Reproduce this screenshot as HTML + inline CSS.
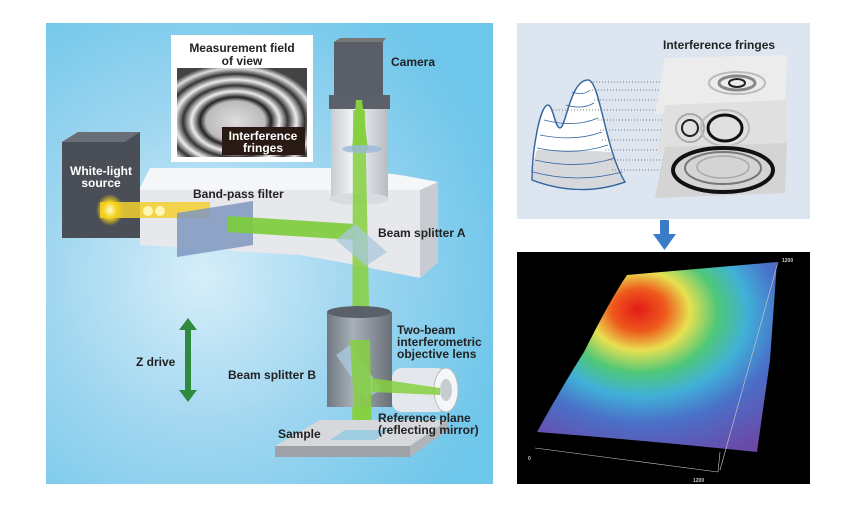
<!DOCTYPE html>
<html><head><meta charset="utf-8"><style>
html,body{margin:0;padding:0;background:#fff;}
svg{display:block;}
text{font-family:"Liberation Sans",Arial,sans-serif;font-weight:bold;}
</style></head><body>
<svg width="857" height="506" viewBox="0 0 857 506" xmlns="http://www.w3.org/2000/svg">
<defs>
<radialGradient id="bg" cx="0.35" cy="0.55" r="0.7">
<stop offset="0" stop-color="#d6eef9"/><stop offset="0.5" stop-color="#9fd6f0"/><stop offset="1" stop-color="#6ec6ea"/>
</radialGradient>
<radialGradient id="surf" cx="0.45" cy="0.28" r="0.8" fx="0.42" fy="0.25">
<stop offset="0" stop-color="#e41a18"/><stop offset="0.14" stop-color="#ee5a1c"/><stop offset="0.26" stop-color="#e8e050"/>
<stop offset="0.4" stop-color="#50c878"/><stop offset="0.55" stop-color="#40b0d8"/><stop offset="0.72" stop-color="#4a70c8"/><stop offset="1" stop-color="#6a4aa8"/>
</radialGradient>
<linearGradient id="tube" x1="0" x2="1"><stop offset="0" stop-color="#c8ccd0"/><stop offset="0.4" stop-color="#f4f6f8"/><stop offset="1" stop-color="#b8bcc2"/></linearGradient>
<linearGradient id="obj" x1="0" x2="1"><stop offset="0" stop-color="#707880"/><stop offset="0.4" stop-color="#a8b0b8"/><stop offset="1" stop-color="#6a7078"/></linearGradient>
<radialGradient id="yel" cx="0.5" cy="0.5" r="0.5"><stop offset="0" stop-color="#fffbd0"/><stop offset="0.5" stop-color="#f6d21a"/><stop offset="1" stop-color="#f6d21a" stop-opacity="0"/></radialGradient>
<radialGradient id="fr" cx="0.45" cy="0.6" r="0.65">
<stop offset="0" stop-color="#ddd"/><stop offset="0.35" stop-color="#bbb"/><stop offset="0.42" stop-color="#222"/><stop offset="0.52" stop-color="#eee"/><stop offset="0.62" stop-color="#333"/><stop offset="0.72" stop-color="#eee"/><stop offset="0.82" stop-color="#333"/><stop offset="0.92" stop-color="#ddd"/><stop offset="1" stop-color="#444"/>
</radialGradient>
</defs>
<rect x="46" y="23" width="447" height="461" fill="url(#bg)"/>
<polygon points="62,142 78,132 140,132 140,238 62,238" fill="#4a4e56"/>
<polygon points="62,142 78,132 140,132 125,142" fill="#6a6e76"/>
<polygon points="140,188 150,168 340,168 400,175 438,182 438,262 420,278 340,262 300,255 140,245" fill="#e6e8ec"/>
<polygon points="140,188 150,168 340,168 400,175 438,182 420,190 140,190" fill="#f6f7f9"/>
<polygon points="420,190 438,182 438,262 420,278" fill="#c8ccd2"/>
<rect x="100" y="202" width="110" height="16" fill="#f2d030" opacity="0.85"/>
<ellipse cx="110" cy="210" rx="14" ry="16" fill="url(#yel)"/>
<circle cx="148" cy="211" r="5" fill="#fff6b0"/><circle cx="160" cy="211" r="5" fill="#fff6b0"/>
<polygon points="177,213 253,201 253,245 177,257" fill="#7f96c0" opacity="0.85"/>
<polygon points="228,216 355,224 355,240 228,232" fill="#7ccc3a" opacity="0.9"/>
<rect x="334" y="42" width="49" height="53" fill="#5a5e66"/>
<polygon points="334,42 340,38 386,38 383,42" fill="#777"/>
<rect x="329" y="95" width="61" height="14" fill="#5c6068"/>
<rect x="331" y="109" width="57" height="90" fill="url(#tube)"/>
<ellipse cx="359" cy="199" rx="30" ry="6" fill="#d8dce0"/>
<polygon points="353,110 365,110 372,450 352,450" fill="#86d040" opacity="0.85"/>
<polygon points="356,100 362,100 368,150 352,150" fill="#86d040"/>
<ellipse cx="362" cy="149" rx="20" ry="4" fill="#9ab8d8" opacity="0.8"/>
<polygon points="336,240 355,224 387,252 366,266" fill="#a8c8dc" opacity="0.75"/>
<rect x="327" y="312" width="65" height="95" fill="url(#obj)"/>
<ellipse cx="359" cy="312" rx="32" ry="6" fill="#5a6068"/>
<polygon points="336,355 350,345 382,390 366,398" fill="#a8c8dc" opacity="0.8"/>
<polygon points="350,340 370,340 372,440 356,440" fill="#86d040" opacity="0.85"/>
<rect x="392" y="368" width="55" height="44" rx="10" fill="#e4e8ec"/>
<ellipse cx="446" cy="390" rx="12" ry="22" fill="#f4f6f8" stroke="#bbb"/>
<ellipse cx="446" cy="390" rx="6" ry="11" fill="#c8ccd0"/>
<polygon points="372,378 440,388 440,395 372,392" fill="#86d040" opacity="0.85"/>
<polygon points="275,446 320,420 448,420 410,446" fill="#d6d8dc"/>
<polygon points="275,446 410,446 410,457 275,457" fill="#9ea2a8"/>
<polygon points="410,446 448,420 448,430 410,457" fill="#b0b4b8"/>
<polygon points="330,440 345,430 390,430 375,440" fill="#9fcde0"/>
<line x1="188" y1="328" x2="188" y2="392" stroke="#2e8a3e" stroke-width="6"/>
<polygon points="179,330 188,318 197,330" fill="#2e8a3e"/>
<polygon points="179,390 188,402 197,390" fill="#2e8a3e"/>
<rect x="171" y="35" width="142" height="127" fill="#fff"/>
<rect x="177" y="68" width="130" height="89" fill="url(#fr)"/>
<rect x="222" y="127" width="83" height="28" fill="#2a1a14"/>
<text x="242" y="52" font-size="12" text-anchor="middle" fill="#222">Measurement field</text>
<text x="242" y="65" font-size="12" text-anchor="middle" fill="#222">of view</text>
<text x="263" y="140" font-size="12" text-anchor="middle" fill="#fff">Interference</text>
<text x="263" y="152" font-size="12" text-anchor="middle" fill="#fff">fringes</text>
<g font-size="12" fill="#222">
<text x="391" y="66">Camera</text>
<text x="101" y="175" text-anchor="middle" fill="#fff">White-light</text>
<text x="101" y="187" text-anchor="middle" fill="#fff">source</text>
<text x="193" y="198">Band-pass filter</text>
<text x="378" y="237">Beam splitter A</text>
<text x="397" y="334">Two-beam</text>
<text x="397" y="346">interferometric</text>
<text x="397" y="358">objective lens</text>
<text x="136" y="366">Z drive</text>
<text x="228" y="379">Beam splitter B</text>
<text x="378" y="422">Reference plane</text>
<text x="378" y="434">(reflecting mirror)</text>
<text x="278" y="438">Sample</text>
</g>
<rect x="517" y="23" width="293" height="196" fill="#dde6f0"/>
<text x="663" y="49" font-size="12" fill="#222">Interference fringes</text>
<path d="M532,180 C532,150 540,105 548,105 C553,105 555,128 560,128 C566,128 570,80 588,80 C600,80 605,150 625,182 Q580,198 532,180Z" fill="#fff" stroke="#3466a0" stroke-width="1.3"/>
<path d="M532,180 C533,165 535,155 537,150 Q580,150 612,152 C616,165 620,175 625,182 Q580,198 532,180Z" fill="#d6d8dc"/>
<path d="M532,180 C532,150 540,105 548,105 C553,105 555,128 560,128 C566,128 570,80 588,80 C600,80 605,150 625,182 Q580,198 532,180Z" fill="none" stroke="#3466a0" stroke-width="1.3"/>
<g stroke="#3466a0" stroke-width="0.8" fill="none">
<path d="M533,172 Q578,184 622,172"/><path d="M535,160 Q578,170 615,158"/><path d="M537,148 Q575,156 608,145"/><path d="M540,135 Q575,142 602,132"/><path d="M544,120 Q575,128 598,118"/><path d="M566,105 Q582,110 594,103"/><path d="M572,92 Q583,96 590,90"/>
</g>
<g stroke="#555" stroke-width="0.8" stroke-dasharray="1,2">
<line x1="590" y1="82" x2="665" y2="82"/><line x1="592" y1="90" x2="665" y2="90"/><line x1="594" y1="100" x2="665" y2="100"/><line x1="553" y1="110" x2="665" y2="110"/><line x1="598" y1="120" x2="665" y2="120"/><line x1="600" y1="130" x2="665" y2="130"/><line x1="602" y1="140" x2="665" y2="140"/><line x1="605" y1="150" x2="665" y2="150"/><line x1="608" y1="160" x2="665" y2="160"/><line x1="612" y1="170" x2="665" y2="170"/>
</g>
<polygon points="665,58 787,55 785,110 655,114" fill="#ececec"/>
<ellipse cx="737" cy="83" rx="28" ry="11" fill="none" stroke="#bbb" stroke-width="2"/>
<ellipse cx="737" cy="83" rx="18" ry="7" fill="none" stroke="#888" stroke-width="3"/>
<ellipse cx="737" cy="83" rx="8" ry="4" fill="none" stroke="#222" stroke-width="2"/>
<polygon points="665,105 787,100 787,150 657,155" fill="#e0e0e0"/>
<circle cx="690" cy="128" r="14" fill="none" stroke="#aaa" stroke-width="2"/>
<circle cx="690" cy="128" r="8" fill="none" stroke="#222" stroke-width="2"/>
<ellipse cx="725" cy="128" rx="24" ry="18" fill="none" stroke="#bbb" stroke-width="2"/>
<ellipse cx="725" cy="128" rx="17" ry="13" fill="none" stroke="#111" stroke-width="3"/>
<polygon points="665,147 787,143 785,193 655,198" fill="#d4d4d4"/>
<ellipse cx="723" cy="170" rx="50" ry="22" fill="none" stroke="#111" stroke-width="4"/>
<ellipse cx="723" cy="168" rx="38" ry="16" fill="none" stroke="#777" stroke-width="2"/>
<ellipse cx="723" cy="167" rx="26" ry="11" fill="none" stroke="#aaa" stroke-width="1.5"/>
<rect x="660" y="220" width="9" height="15" fill="#3a7cc8"/>
<polygon points="653,234 676,234 664.5,250" fill="#3a7cc8"/>
<rect x="517" y="252" width="293" height="232" fill="#000"/>
<path d="M627,275 L777,262 L770,360 L757,452 Q640,440 537,432 Q560,390 584,352 Q610,300 627,275Z" fill="url(#surf)"/>
<g stroke="#ccc" stroke-width="0.6" fill="none">
<line x1="535" y1="448" x2="718" y2="472"/><line x1="718" y1="472" x2="720" y2="452"/><line x1="778" y1="262" x2="720" y2="470"/>
</g>
<text x="782" y="262" font-size="5" fill="#ccc" font-weight="normal">1200</text>
<text x="528" y="460" font-size="5" fill="#ccc" font-weight="normal">0</text>
<text x="693" y="482" font-size="5" fill="#ccc" font-weight="normal">1200</text>
</svg>
</body></html>
